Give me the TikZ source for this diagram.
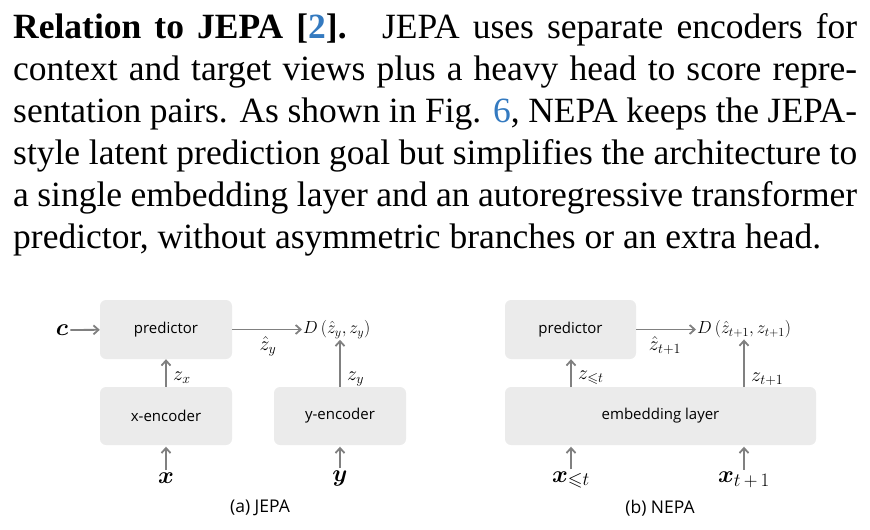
\RequirePackage{fix-cm}
\documentclass[tikz,border=0pt]{standalone}
\usepackage{amsmath,amssymb,bm}
\usepackage{fontspec}
\setmainfont{Liberation Serif}
\newfontfamily\diagfont{Open Sans}
\usetikzlibrary{arrows.meta}
\definecolor{boxgray}{RGB}{235,235,235}
\definecolor{arrgray}{RGB}{128,128,128}
\definecolor{citeblue}{RGB}{52,122,192}
\newcommand{\parline}[1]{\makebox[844pt][s]{#1}}
\newcommand{\bigsubs}[1]{\mbox{\fontsize{19}{20}\selectfont$#1$}}
\begin{document}
\begin{tikzpicture}[x=1pt,y=-1pt,
  txt/.style={anchor=base west, inner sep=0pt, font=\fontsize{35.5}{42}\selectfont},
  blk/.style={fill=boxgray, rounded corners=6pt, draw=none, inner sep=0pt,
    font=\diagfont\fontsize{15}{18}\selectfont},
  arr/.style={draw=arrgray, line width=1.8pt, -{Straight Barb[length=5pt,width=9pt]}},
  var/.style={inner sep=2pt, font=\fontsize{24}{26}\selectfont},
  lab/.style={inner sep=1pt, font=\fontsize{20}{22}\selectfont},
  dlab/.style={inner sep=1pt, anchor=west, font=\fontsize{17.5}{19}\selectfont},
  capt/.style={inner sep=0pt, font=\diagfont\fontsize{17.5}{20}\selectfont}
]
\useasboundingbox (0,0) rectangle (870,530);
% paragraph
\node[txt] (l1) at (13,38) {\parline{\textbf{Relation to JEPA [{\color{citeblue}2}].}\hspace{1em}JEPA uses separate encoders for}};
\node[txt] (l2) at (13,80) {\parline{context and target views plus a heavy head to score repre-}};
\node[txt] (l3) at (13,122) {\parline{sentation pairs. As shown in Fig. {\color{citeblue}6}, NEPA keeps the JEPA-}};
\node[txt] (l4) at (13,164) {\parline{style latent prediction goal but simplifies the architecture to}};
\node[txt] (l5) at (13,206) {\parline{a single embedding layer and an autoregressive transformer}};
\node[txt] (l6) at (13,248) {predictor, without asymmetric branches or an extra head.};

% (a) JEPA
\node[blk, minimum width=132pt, minimum height=59pt] (pA) at (166,329.5) {predictor};
\node[blk, minimum width=132pt, minimum height=58pt] (xA) at (166,416) {x-encoder};
\node[blk, minimum width=132pt, minimum height=58pt] (yA) at (340,416) {y-encoder};
\node[var] (c) at (62,330) {$\bm{c}$};
\node[dlab] (DA) at (302,329.5) {$D\left(\hat{z}_y, z_y\right)$};
\node[lab] (zhA) at (268,346) {$\hat{z}_y$};
\node[lab, anchor=west] (zyA) at (346,379) {$z_y$};
\node[lab, anchor=west] (zxA) at (172,378) {$z_x$};
\node[var] (xv) at (166,478) {$\bm{x}$};
\node[var] (yv) at (340,478) {$\bm{y}$};
\node[capt] (capA) at (260,508) {(a) JEPA};
\draw[arr] (c) -- (pA);
\draw[arr] (pA.east) -- (DA.west);
\draw[arr] (yA.north) -- (yA.north |- DA.south);
\draw[arr] (xA.north) -- (pA.south);
\draw[arr, shorten >=1.5pt] (xv.north) -- (xA.south);
\draw[arr, shorten >=1.5pt] (yv.north) -- (yA.south);

% (b) NEPA
\node[blk, minimum width=131pt, minimum height=59pt] (pB) at (570.5,329.5) {predictor};
\node[blk, minimum width=311pt, minimum height=58pt] (eB) at (660.5,416) {embedding layer};
\node[dlab] (DB) at (696,329.5) {$D\left(\hat{z}_{t+1}, z_{t+1}\right)$};
\node[lab] (zhB) at (665,346) {$\hat{z}_{t+1}$};
\node[lab, anchor=west] (ztB) at (750,379) {$z_{t+1}$};
\node[lab, anchor=west] (zlB) at (577,378) {$z_{\leqslant t}$};
\coordinate (eBl) at (571,387);
\coordinate (eBr) at (744,387);
\node[var] (xlB) at (571,480) {$\bm{x}_{\bigsubs{{\leqslant}t}}$};
\node[var] (xrB) at (744,480) {$\bm{x}_{\bigsubs{t\,{+}\,1}}$};
\node[capt] (capB) at (660,508) {(b) NEPA};
\draw[arr] (pB.east) -- (DB.west);
\draw[arr] (eBr) -- (eBr |- DB.south);
\draw[arr] (eBl) -- (eBl |- pB.south);
\draw[arr, shorten >=1.5pt] (xlB.north -| eBl) -- (eBl |- eB.south);
\draw[arr, shorten >=1.5pt] (xrB.north -| eBr) -- (eBr |- eB.south);
\end{tikzpicture}
\end{document}
